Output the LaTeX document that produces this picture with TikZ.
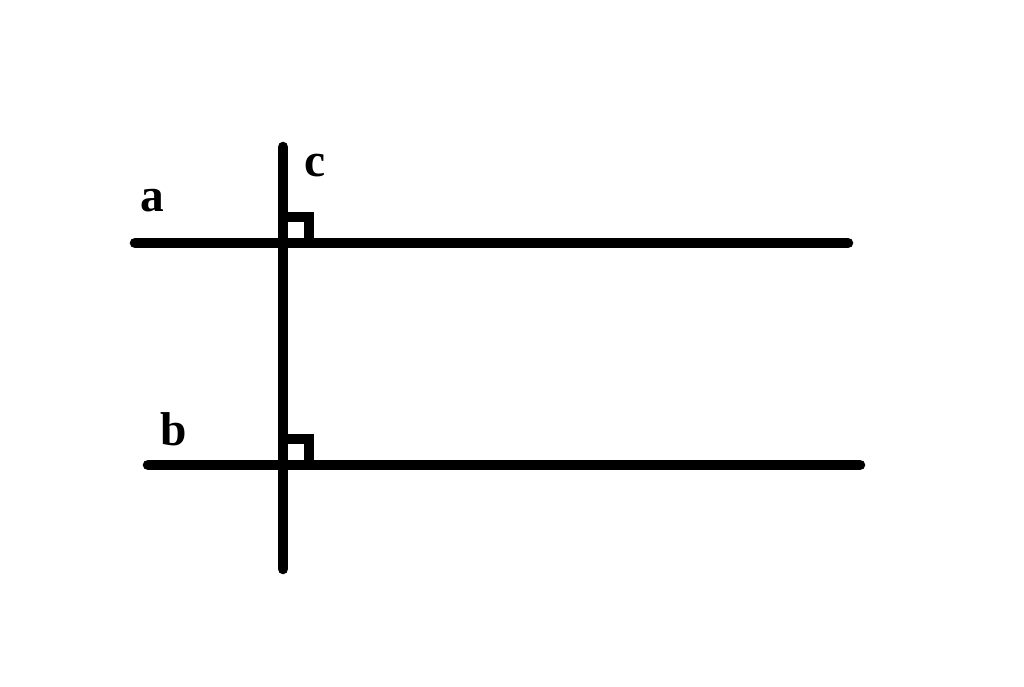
\documentclass[tikz,border=0pt]{standalone}
\usepackage{fontspec}
\setmainfont{Liberation Serif}
\usepackage{tikz}

\begin{document}
\begin{tikzpicture}
  [line width=6pt,line cap=round,every node/.style={font=\bfseries\fontsize{27}{30}\selectfont,inner sep=0pt}]
  \useasboundingbox (0,0) rectangle (20.48,13.74);
  \coordinate (a1) at (2.7,8.88);
  \coordinate (a2) at (16.96,8.88);
  \coordinate (b1) at (2.96,4.44);
  \coordinate (b2) at (17.2,4.44);
  \coordinate (c1) at (5.66,10.8);
  \coordinate (c2) at (5.66,2.36);
  \coordinate (ac) at (5.66,8.88);
  \coordinate (bc) at (5.66,4.44);

  \node (la) at (3.04,9.72) {a};
  \node (lb) at (3.48,5.16) {b};
  \node (lc) at (6.3,10.42) {c};

  \foreach \from/\to in {a1/a2,b1/b2,c1/c2}
    \draw (\from) -- (\to);
  \foreach \p in {ac,bc}
    \draw[line width=5.5pt,line cap=butt] (\p) rectangle ++(0.52,0.52);

\end{tikzpicture}
\end{document}
